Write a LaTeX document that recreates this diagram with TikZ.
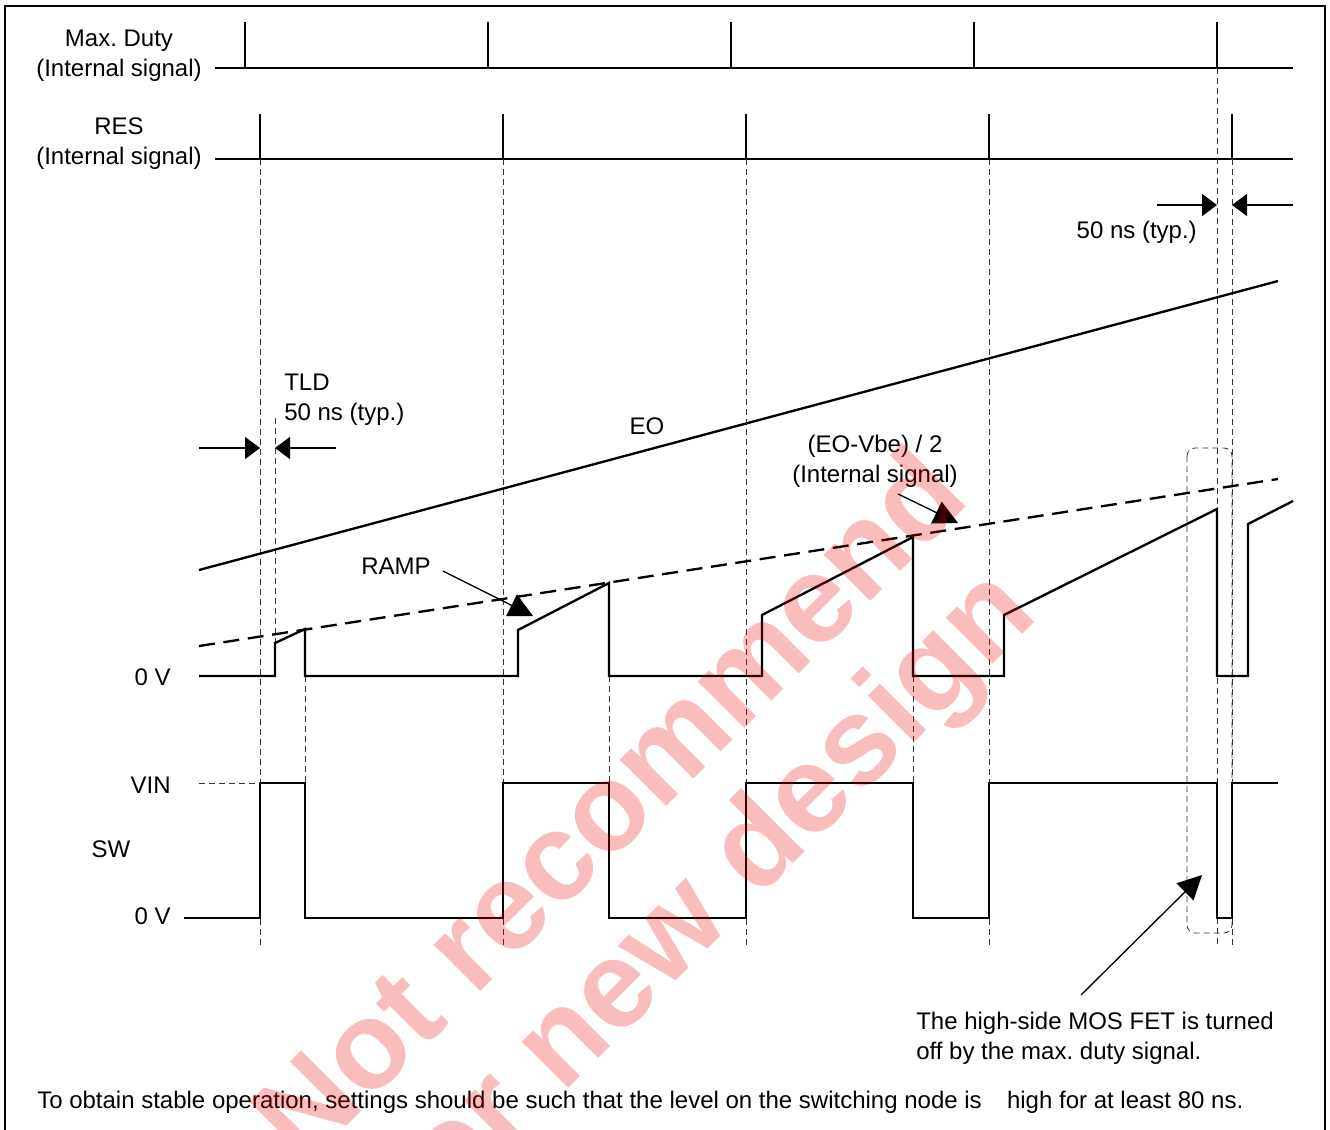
\documentclass[tikz,border=0pt]{standalone}
\usepackage{fontspec}
\setmainfont{Liberation Sans}
\usetikzlibrary{arrows.meta}
\definecolor{wm}{RGB}{235,0,0}
\frenchspacing
\begin{document}
\begin{tikzpicture}[x=0.75pt,y=-0.75pt,
  sig/.style={line width=1.75pt, line join=miter},
  guide/.style={line width=0.6pt, dash pattern=on 4.5pt off 3pt, black!80},
  lbl/.style={font=\fontsize{18}{22.5}\selectfont, inner sep=0pt, align=center},
  dimarrow/.style={line width=1pt, -{Triangle[length=11.25pt,width=16.5pt]}},
  leader/.style={line width=1pt, -{Triangle[length=18pt,width=18pt]}},
]
\useasboundingbox (0,0) rectangle (1330,1129);
\draw[line width=2pt] (5,6) rectangle (1325,1145);

% Max. Duty
\draw[sig] (215,68) -- (1293,68);
\foreach \x in {245,488,731,974,1217} \draw[sig] (\x,22) -- (\x,68);
% RES
\draw[sig] (215,159) -- (1293,159);
\foreach \x in {260,503,746,989,1232} \draw[sig] (\x,114) -- (\x,159);

% guides
\draw[guide] (260,159) -- (260,948);
\draw[guide] (275,418) -- (275,643);
\draw[guide] (305,676) -- (305,783);
\draw[guide] (503,159) -- (503,948);
\draw[guide] (609,676) -- (609,783);
\draw[guide] (746,159) -- (746,948);
\draw[guide] (913,676) -- (913,783);
\draw[guide] (989,159) -- (989,948);
\draw[guide] (1217,68) -- (1217,948);
\draw[guide] (1232,159) -- (1232,948);
\draw[guide] (199,783) -- (260,783);
\draw[guide, rounded corners=6pt] (1187,448) rectangle (1232,933);

% EO and (EO-Vbe)/2
\draw[sig] (199,570) -- (1278,281);
\draw[sig, dash pattern=on 12pt off 6.5pt] (199,646) -- (1278,479);

% RAMP
\draw[sig] (199,676) -- (275,676) -- (275,643) -- (305,629) -- (305,676) -- (518,676) -- (518,630) -- (609,583) -- (609,676) -- (762,676) -- (762,615) -- (913,537) -- (913,676) -- (1004,676) -- (1004,615) -- (1217,509) -- (1217,676) -- (1248,676) -- (1248,524) -- (1293,501);

% SW
\draw[sig] (184,918) -- (260,918) -- (260,783) -- (305,783) -- (305,918) -- (503,918) -- (503,783) -- (609,783) -- (609,918) -- (746,918) -- (746,783) -- (913,783) -- (913,918) -- (989,918) -- (989,783) -- (1217,783) -- (1217,918) -- (1232,918) -- (1232,783) -- (1278,783);

% dimension arrows
\coordinate (tldA0) at (199,448); \coordinate (tldA1) at (260,448);
\coordinate (tldB0) at (336,448); \coordinate (tldB1) at (275,448);
\coordinate (mdA0) at (1157,205); \coordinate (mdA1) at (1217,205);
\coordinate (mdB0) at (1293,205); \coordinate (mdB1) at (1232,205);
\draw[dimarrow] (tldA0) -- (tldA1);
\draw[dimarrow] (tldB0) -- (tldB1);
\draw[dimarrow] (mdA0) -- (mdA1);
\draw[dimarrow] (mdB0) -- (mdB1);

% labels
\node[lbl] (maxduty) at (119,56) {Max. Duty\\(Internal signal)};
\node[lbl] (res) at (119,144) {RES\\(Internal signal)};
\node[lbl, anchor=east] (zv1) at (171,677) {0 V};
\node[lbl, anchor=east] (vin) at (171,785) {VIN};
\node[lbl] (sw) at (111,849) {SW};
\node[lbl, anchor=east] (zv2) at (171,916) {0 V};
\node[lbl] (ramp) at (396,566) {RAMP};
\node[lbl] (eo) at (647,426) {EO};
\node[lbl] (eovbe) at (875,461) {(EO-Vbe) / 2\\(Internal signal)};
\node[lbl, anchor=west, align=left] (tld) at (284,400) {TLD\\50 ns (typ.)};
\node[lbl, anchor=east] (ns50) at (1197,232) {50 ns (typ.)};
\node[lbl, anchor=west, align=left] (note) at (916,1038) {The high-side MOS FET is turned\\off by the max. duty signal.};
\node[lbl, anchor=west] (bottom) at (37,1102) {To obtain stable operation, settings should be such that the level on the switching node is\hspace{19pt}high for at least 80 ns.};

% leaders
\coordinate (rampL) at (443,571); \coordinate (rampT) at (533,616);
\coordinate (eovL) at (898,494); \coordinate (eovT) at (958,523);
\coordinate (noteL) at (1081,995); \coordinate (noteT) at (1202,875);
\draw[leader] (rampL) -- (rampT);
\draw[leader] (eovL) -- (eovT);
\draw[leader] (noteL) -- (noteT);

% watermark
\node[rotate=45, text=wm, opacity=0.26, inner sep=0pt, font=\fontsize{93}{98}\selectfont\bfseries, align=center] (wmark) at (662,858) {Not recommend\\for new design};
\end{tikzpicture}
\end{document}
